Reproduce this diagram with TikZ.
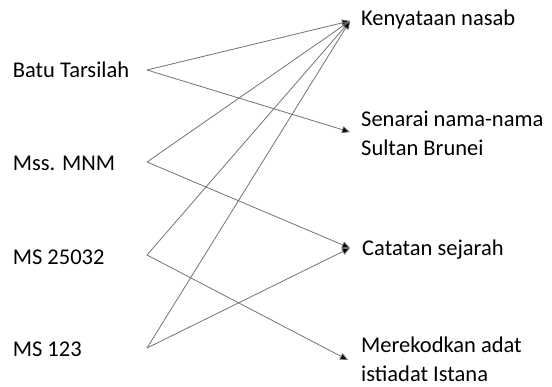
\documentclass[tikz,border=0pt]{standalone}
\usepackage{fontspec}
\setmainfont{Carlito}
\usetikzlibrary{arrows.meta}
\begin{document}
\begin{tikzpicture}[x=1pt,y=-1pt,
  src/.style={anchor=base east,inner sep=0pt,text width=134pt,align=flush left,font=\fontsize{22.5}{29}\selectfont},
  dst/.style={anchor=base west,inner sep=0pt,align=flush left,font=\fontsize{22.5}{29}\selectfont},
  link/.style={draw=black!55,line width=0.8pt,-{Triangle[length=8pt,width=7pt,fill=black]}}]
\useasboundingbox (0,0) rectangle (552,387);
\node[src] (b1) at (147,78) {Batu Tarsilah};
\node[src] (b2) at (147,171) {Mss. MNM};
\node[src] (b3) at (147,265) {MS 25032};
\node[src] (b4) at (147,357) {MS 123};
\node[dst] (t1) at (361,26) {Kenyataan nasab};
\node[dst] (t2) at (361,156) {Senarai nama-nama\\Sultan Brunei};
\node[dst] (t3) at (362,256) {Catatan sejarah};
\node[dst] (t4) at (361,382) {Merekodkan adat\\istiadat Istana};
\coordinate (v1) at ([yshift=8pt]b1.base east);
\coordinate (v2) at ([yshift=9pt]b2.base east);
\coordinate (v3) at ([yshift=10pt]b3.base east);
\coordinate (v4) at ([yshift=9pt]b4.base east);
\coordinate (k) at ([xshift=-11pt,yshift=5pt]t1.base west);
\coordinate (s) at ([xshift=-11pt,yshift=24pt]t2.base west);
\coordinate (c) at ([xshift=-12pt,yshift=8pt]t3.base west);
\coordinate (m) at ([xshift=-13pt,yshift=22pt]t4.base west);
\draw[link] (v1) -- (k);
\draw[link] (v1) -- (s);
\draw[link] (v2) -- (k);
\draw[link] (v2) -- (c);
\draw[link] (v3) -- (k);
\draw[link] (v3) -- (m);
\draw[link] (v4) -- (k);
\draw[link] (v4) -- (c);
\end{tikzpicture}
\end{document}
